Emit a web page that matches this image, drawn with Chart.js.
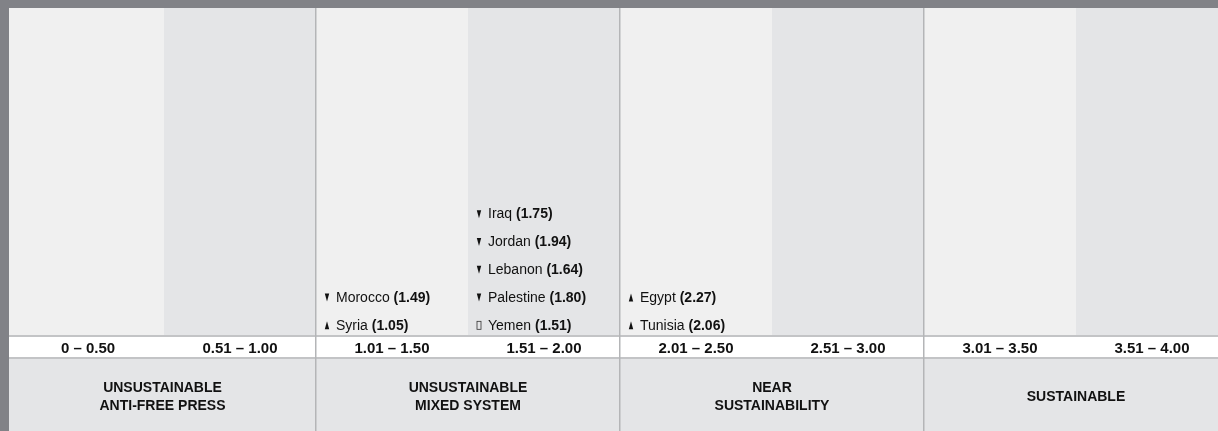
<!DOCTYPE html>
<html>
<head>
<meta charset="utf-8">
<script src="https://cdn.jsdelivr.net/npm/chart.js@4.4.1/dist/chart.umd.min.js"></script>
<style>
  html, body { margin: 0; padding: 0; overflow: hidden; background: #ffffff; }
  #wrap { width: 1228px; height: 431px; }
  canvas { display: block; }
</style>
</head>
<body>
<div id="wrap"><canvas id="c" width="1228" height="431"></canvas></div>
<script>
// ---- Data ----
const rangeLabels = ['0 – 0.50', '0.51 – 1.00', '1.01 – 1.50', '1.51 – 2.00', '2.01 – 2.50', '2.51 – 3.00', '3.01 – 3.50', '3.51 – 4.00'];
const groupLabels = [['UNSUSTAINABLE', 'ANTI-FREE PRESS'], ['UNSUSTAINABLE', 'MIXED SYSTEM'], ['NEAR', 'SUSTAINABILITY'], ['SUSTAINABLE']];
const countries = ['Syria', 'Morocco', 'Iraq', 'Jordan', 'Lebanon', 'Palestine', 'Yemen', 'Egypt', 'Tunisia'];
const scores = [1.05, 1.49, 1.75, 1.94, 1.64, 1.80, 1.51, 2.27, 2.06];
const trends = ['up', 'down', 'down', 'down', 'down', 'down', 'same', 'up', 'up'];

// ---- Build points: column from score, stacked alphabetically (last name at the bottom) ----
const colOf = s => Math.max(0, Math.ceil(s * 2 - 1e-9) - 1);
const byCol = {};
countries.forEach((n, i) => { const c = colOf(scores[i]); (byCol[c] = byCol[c] || []).push(i); });
const points = [];
Object.keys(byCol).forEach(c => {
  const idx = byCol[c].slice().sort((a, b) => countries[b].localeCompare(countries[a]));
  idx.forEach((i, slot) => points.push({ x: Number(c) * 0.5, y: slot + 0.33, name: countries[i], score: scores[i], trend: trends[i] }));
});

const FONT = '"Liberation Sans", Arial, sans-serif';
const C_LIGHT = '#f0f0f0', C_DARK = '#e4e5e7', C_BORDER = '#818287', C_LINE = '#c3c4c6', C_SEP = '#b4b5b7';

const tablePlugin = {
  id: 'table',
  beforeDraw(chart) {
    const { ctx, chartArea: a, scales: { x } } = chart;
    const W = chart.width, H = chart.height;
    ctx.save();
    // outer gray frame
    ctx.fillStyle = C_BORDER;
    ctx.fillRect(0, 0, W, a.top);
    ctx.fillRect(0, 0, 9, H);
    // column bands
    for (let i = 0; i < rangeLabels.length; i++) {
      let l = x.getPixelForValue(i * 0.5), r = x.getPixelForValue((i + 1) * 0.5);
      if (i === 0) l = 9;
      if (i === rangeLabels.length - 1) r = W;
      ctx.fillStyle = i % 2 === 0 ? C_LIGHT : C_DARK;
      ctx.fillRect(l, a.top, r - l, a.bottom - a.top);
    }
    // range row
    ctx.fillStyle = C_LINE;
    ctx.fillRect(9, a.bottom, W - 9, 2);
    ctx.fillStyle = '#ffffff';
    ctx.fillRect(9, a.bottom + 2, W - 9, 20);
    ctx.fillStyle = C_LINE;
    ctx.fillRect(9, a.bottom + 22, W - 9, 2);
    // group row
    ctx.fillStyle = C_DARK;
    ctx.fillRect(9, a.bottom + 24, W - 9, H - a.bottom - 24);
    // range labels
    ctx.fillStyle = '#111111';
    ctx.textAlign = 'center';
    ctx.textBaseline = 'middle';
    ctx.font = 'bold 15px ' + FONT;
    rangeLabels.forEach((t, i) => {
      ctx.fillText(t, x.getPixelForValue(i * 0.5 + 0.25), a.bottom + 13.5);
    });
    // group labels
    ctx.font = 'bold 14px ' + FONT;
    const gy = (a.bottom + 24 + H) / 2 + 2;
    groupLabels.forEach((lines, g) => {
      let l = x.getPixelForValue(g), r = x.getPixelForValue(g + 1);
      if (g === 0) l = 9;
      const cx = (l + r) / 2;
      const y0 = gy - (lines.length - 1) * 9;
      lines.forEach((t, k) => ctx.fillText(t, cx, y0 + k * 18));
    });
    // group separators
    ctx.fillStyle = C_SEP;
    for (let g = 1; g < groupLabels.length; g++) {
      const px = x.getPixelForValue(g);
      ctx.fillRect(px - 1, a.top, 1.5, H - a.top);
    }
    ctx.restore();
  },
  afterDatasetsDraw(chart) {
    const { ctx } = chart;
    const meta = chart.getDatasetMeta(0);
    ctx.save();
    ctx.textBaseline = 'middle';
    ctx.textAlign = 'left';
    meta.data.forEach((el, i) => {
      const p = points[i];
      const ax = el.x + 11, y = el.y;
      ctx.fillStyle = '#111111';
      ctx.strokeStyle = '#333333';
      if (p.trend === 'down') {
        ctx.beginPath(); ctx.moveTo(ax - 2.2, y - 4.5); ctx.lineTo(ax + 2.2, y - 4.5); ctx.lineTo(ax, y + 3.5); ctx.closePath(); ctx.fill();
      } else if (p.trend === 'up') {
        ctx.beginPath(); ctx.moveTo(ax - 2.2, y + 3.5); ctx.lineTo(ax + 2.2, y + 3.5); ctx.lineTo(ax, y - 4.5); ctx.closePath(); ctx.fill();
      } else {
        ctx.lineWidth = 0.8;
        ctx.strokeRect(ax - 2, y - 4.5, 4, 8);
      }
      let tx = el.x + 20;
      ctx.font = '14px ' + FONT;
      const nm = p.name + ' ';
      ctx.fillText(nm, tx, y);
      tx += ctx.measureText(nm).width;
      ctx.font = 'bold 14px ' + FONT;
      ctx.fillText('(' + p.score.toFixed(2) + ')', tx, y);
    });
    ctx.restore();
  }
};

new Chart(document.getElementById('c'), {
  type: 'scatter',
  data: { datasets: [{ data: points, pointRadius: 0, pointHoverRadius: 0 }] },
  options: {
    responsive: false,
    animation: false,
    events: [],
    layout: { padding: { left: 12, top: 8, right: 0, bottom: 96 } },
    plugins: { legend: { display: false }, tooltip: { enabled: false } },
    scales: {
      x: { type: 'linear', min: 0, max: 4, display: false },
      y: { type: 'linear', min: 0, max: 327 / 27.8, display: false }
    }
  },
  plugins: [tablePlugin]
});
</script>
</body>
</html>
